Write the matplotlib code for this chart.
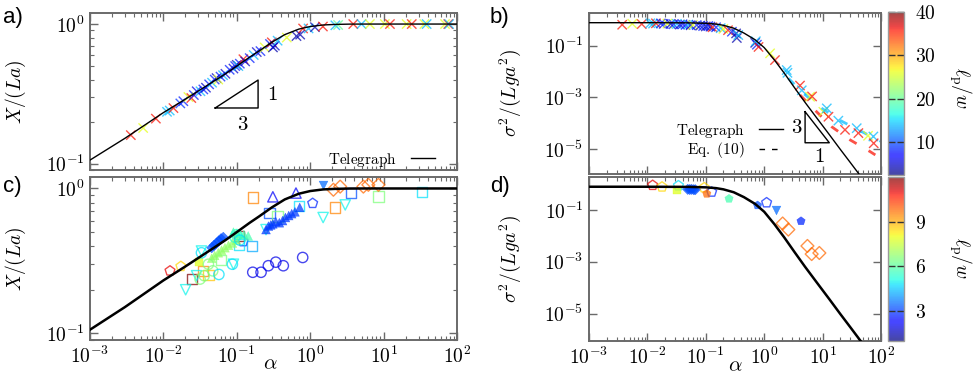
import numpy as np
import matplotlib
matplotlib.use("Agg")
import matplotlib.pyplot as plt
from matplotlib.colors import ListedColormap, Normalize
from matplotlib.ticker import FuncFormatter, LogLocator, NullFormatter, FixedLocator
from matplotlib.lines import Line2D
import matplotlib.cm as cm

plt.rcParams['mathtext.fontset'] = 'cm'
plt.rcParams['font.family'] = ['DejaVu Serif']

# ---------------- data ----------------
# theory curves
tele_alpha_X = [1e-3, 3e-3, 1e-2, 2e-2, 4e-2, 0.07, 0.1, 0.15, 0.2, 0.3, 0.45, 0.7, 1.0, 1.5, 2.2, 3.5, 6, 100]
tele_X = [0.106, 0.152, 0.232, 0.29, 0.365, 0.44, 0.50, 0.58, 0.64, 0.74, 0.84, 0.92, 0.96, 0.985, 0.994, 0.999, 1.0, 1.0]

tele_alpha_s = [1e-3, 1e-2, 0.05, 0.1, 0.15, 0.2, 0.3, 0.45, 0.7, 1.0, 1.5, 2.2, 3.3, 5, 8, 13, 20, 30, 45, 100]
tele_s = [0.78, 0.78, 0.77, 0.74, 0.69, 0.62, 0.48, 0.31, 0.17, 0.085, 0.028, 0.0088, 0.0024,
          6.5e-4, 1.58e-4, 3.7e-5, 1.0e-5, 3.0e-6, 8.9e-7, 8.1e-8]

# panel a: simulations, alpha, X/(La), lp/w
a_alpha = [0.0036, 0.0053, 0.0079, 0.0112, 0.0122, 0.0137, 0.017, 0.0187, 0.0219, 0.024, 0.026, 0.0284,
           0.032, 0.035, 0.038, 0.042, 0.046, 0.050, 0.053, 0.056, 0.060, 0.065, 0.070, 0.080, 0.090,
           0.095, 0.100, 0.105, 0.110, 0.123, 0.130, 0.150, 0.170, 0.187, 0.210, 0.240, 0.283, 0.300,
           0.311, 0.330, 0.360, 0.480, 0.650, 0.730, 0.800, 0.950, 1.16, 1.49, 2.2, 2.4, 3.86, 5.0,
           6.5, 10.4, 12.2, 20.6, 24.2, 36, 38.6, 68.7, 76, 78]
a_X = [0.16, 0.18, 0.21, 0.235, 0.24, 0.25, 0.27, 0.28, 0.30, 0.295, 0.31, 0.33,
       0.33, 0.34, 0.35, 0.37, 0.38, 0.40, 0.41, 0.40, 0.42, 0.43, 0.44, 0.47, 0.48,
       0.50, 0.51, 0.50, 0.52, 0.56, 0.54, 0.57, 0.60, 0.63, 0.64, 0.68, 0.72, 0.74,
       0.68, 0.70, 0.76, 0.80, 0.82, 0.84, 0.93, 0.93, 0.95, 0.96, 0.98, 0.985, 1.0, 1.0,
       1.0, 1.0, 1.0, 1.0, 1.0, 1.0, 1.0, 1.0, 1.0, 1.0]
a_lp = [36, 26, 36, 14, 14, 36, 9, 8, 26, 36, 8, 6,
        14, 8, 5, 8, 14, 8, 5, 26, 8, 14, 5, 8, 5,
        8, 4, 14, 8, 36, 5, 8, 14, 5, 8, 26, 8, 36,
        4, 5, 14, 26, 4, 4, 36, 14, 4, 36, 14, 20, 36, 14,
        26, 26, 36, 26, 36, 26, 14, 26, 36, 14]

# panel b: simulations, alpha, sigma^2/(Lga^2), lp/w
b_alpha = [0.0037, 0.0055, 0.008, 0.0112, 0.0125, 0.014, 0.017, 0.019, 0.022, 0.025, 0.028, 0.032,
           0.036, 0.04, 0.045, 0.05, 0.055, 0.06, 0.07, 0.08, 0.09, 0.1, 0.11, 0.12, 0.13, 0.15,
           0.18, 0.2, 0.24, 0.28, 0.33, 0.34, 0.36, 0.7, 0.75, 0.8, 0.72, 1.26, 1.53, 2.43, 2.5,
           4.1, 4.4, 6.1, 6.6, 10.3, 11.8, 12.6, 18.6, 24.2, 38.4, 41, 60, 74, 75]
b_s = [0.65, 0.71, 0.69, 0.74, 0.72, 0.74, 0.73, 0.70, 0.72, 0.70, 0.68, 0.70,
       0.66, 0.68, 0.64, 0.66, 0.62, 0.64, 0.63, 0.60, 0.58, 0.56, 0.58, 0.55, 0.52, 0.52,
       0.48, 0.45, 0.40, 0.35, 0.30, 0.20, 0.26, 0.13, 0.11, 0.09, 0.15, 0.051, 0.028, 0.0115, 0.009,
       0.0029, 0.0019, 0.00107, 0.0011, 2.8e-4, 3.8e-4, 1.8e-4, 1.27e-4, 5.6e-5, 6.5e-5, 4.2e-5, 3.3e-5, 3.1e-5, 1.7e-5]
b_lp = [36, 26, 36, 14, 14, 36, 8, 8, 26, 5, 8, 14,
        5, 8, 8, 14, 5, 26, 8, 5, 8, 4, 8, 5, 36, 8,
        14, 26, 36, 8, 4, 4, 14, 4, 8, 36, 14, 26, 36, 14, 14,
        36, 14, 26, 36, 26, 14, 36, 14, 36, 14, 36, 26, 14, 36]

# Eq. (10) curves in panel b
eq10_red_alpha = [4.1, 7.9, 14.3, 29.5, 65, 80]
eq10_red_s = [1.25e-3, 2.8e-4, 7.4e-5, 2.3e-5, 8.1e-6, 6.0e-6]
eq10_red_lp = 36
eq10_blue_alpha = [2.6, 4.6, 9.7, 20, 45, 100]
eq10_blue_s = [5.5e-3, 1.5e-3, 3.8e-4, 1.3e-4, 5.0e-5, 2.0e-5]
eq10_blue_lp = 14

# panel c: experiments (dataset id, alpha, X/(La), lp/w)
c_set = (['pent_o'] * 4 + ['sq_o'] * 15 + ['tv_o'] * 7 + ['tu_o'] * 2 + ['circ_o'] * 16 +
         ['dia_f'] * 6 + ['tu_f'] * 8 + ['tu_f'] * 5 + ['tu_f'] * 12 + ['sq_f'] + ['tv_f'] + ['dia_o'] * 5)
c_alpha = [0.0123, 0.0173, 0.122, 1.08,
           0.0243, 0.0344, 0.041, 0.061, 0.108, 0.107, 0.16, 0.165, 0.28, 0.36, 0.71, 2.2, 3.6, 8.5, 33,
           0.0201, 0.0283, 0.25, 1.5, 3.0, 0.033, 0.09,
           0.31, 0.64,
           0.0316, 0.041, 0.047, 0.033, 0.057, 0.087, 0.099, 0.165, 0.214, 0.269, 0.34, 0.43, 0.79, 0.036, 0.095, 0.11,
           0.0455, 0.049, 0.053, 0.057, 0.061, 0.0655,
           0.0455, 0.05, 0.056, 0.062, 0.069, 0.077, 0.087, 0.099,
           0.09, 0.1, 0.11, 0.125, 0.143,
           0.25, 0.27, 0.29, 0.31, 0.34, 0.38, 0.42, 0.46, 0.51, 0.56, 0.62, 0.72,
           0.031,
           1.5,
           2.07, 2.56, 5.3, 6.2, 8.5]
c_X = [0.27, 0.29, 0.43, 0.79,
       0.237, 0.268, 0.254, 0.32, 0.47, 0.41, 0.40, 0.867, 0.68, 0.64, 0.76, 0.74, 0.93, 0.88, 0.95,
       0.20, 0.25, 0.52, 0.63, 0.77, 0.37, 0.30,
       0.876, 0.93,
       0.237, 0.30, 0.27, 0.36, 0.255, 0.30, 0.48, 0.264, 0.264, 0.293, 0.31, 0.293, 0.334, 0.25, 0.46, 0.44,
       0.39, 0.405, 0.42, 0.435, 0.45, 0.46,
       0.33, 0.345, 0.36, 0.375, 0.39, 0.405, 0.42, 0.44,
       0.50, 0.49, 0.485, 0.48, 0.47,
       0.52, 0.55, 0.56, 0.57, 0.59, 0.58, 0.60, 0.63, 0.65, 0.67, 0.69, 0.74,
       0.31,
       1.06,
       0.98, 1.03, 1.03, 1.06, 1.06]
c_lp = [11, 8.5, 2.8, 2.8,
        12, 9.5, 8.7, 6.5, 12, 4.8, 4.2, 9.5, 3.2, 6.5, 4.8, 9.5, 3.2, 6.5, 4.8,
        5, 5, 5, 5, 5, 5, 5,
        2.2, 2.2,
        6.5, 6.5, 6.5, 4.8, 4.8, 4.8, 5.5, 2, 2, 2, 2, 2, 2, 6.5, 5.5, 4.8,
        3.2, 3.2, 3.2, 3.2, 3.2, 3.2,
        6.8, 6.8, 6.8, 6.8, 6.8, 6.8, 6.8, 6.8,
        5.8, 5.8, 5.8, 5.8, 5.8,
        3, 3, 3, 3, 3, 3, 3, 3, 3, 3, 3, 3,
        7.8,
        3.5,
        9.8, 9.8, 9.8, 9.8, 9.8]

# panel d: experiments
d_set = ['pent_o', 'pent_o', 'sq_f', 'pent_o', 'dia_f', 'dia_f', 'dia_f', 'dia_f', 'dia_f',
         'pent_o', 'pent_f', 'pent_o', 'pent_f', 'pent_f', 'pent_o', 'tv_f', 'pent_f',
         'dia_o', 'dia_o', 'dia_o', 'dia_o', 'dia_o']
d_alpha = [0.0123, 0.0178, 0.032, 0.034, 0.049, 0.053, 0.057, 0.062, 0.066,
           0.094, 0.104, 0.126, 0.25, 0.77, 1.10, 1.59, 4.27,
           2.07, 2.59, 5.5, 6.5, 8.8]
d_s = [0.89, 0.77, 0.57, 0.86, 0.62, 0.61, 0.62, 0.60, 0.60,
       0.72, 0.42, 0.49, 0.27, 0.15, 0.19, 0.10, 0.037,
       0.030, 0.0175, 0.0041, 0.0020, 0.0022]
d_lp = [11, 8.5, 7.8, 4.8, 3.2, 3.2, 3.2, 3.2, 3.2,
        8.5, 9.8, 2.8, 5.8, 3.2, 2.8, 3.5, 2.8,
        9.8, 9.8, 9.8, 9.8, 9.8]

# ---------------- style ----------------
marker_style = {
    'pent_o': ('p', False), 'pent_f': ('p', True), 'sq_o': ('s', False), 'sq_f': ('s', True),
    'tv_o': ('v', False), 'tv_f': ('v', True), 'tu_o': ('^', False), 'tu_f': ('^', True),
    'circ_o': ('o', False), 'dia_f': ('D', True), 'dia_o': ('D', False),
}

jet = plt.get_cmap('jet')
cols = jet(np.linspace(0, 1, 256))
cols[:, 3] = 0.72
cmap_a = ListedColormap(cols)
norm_top = Normalize(2.4, 40)
norm_bot = Normalize(1, 12)

W, H = 978, 375
fig = plt.figure(figsize=(W / 100, H / 100), dpi=100)

def box(l, t, r, b):
    return [l / W, 1 - b / H, (r - l) / W, (b - t) / H]

ax_a = fig.add_axes(box(90, 13, 457, 170))
ax_c = fig.add_axes(box(90, 177, 457, 340))
ax_b = fig.add_axes(box(589, 13, 881, 174))
ax_d = fig.add_axes(box(589, 177, 881, 341))
cax_t = fig.add_axes(box(888, 12, 904, 175))
cax_b = fig.add_axes(box(888, 177, 904, 341))

spine_col = '#6a6a6a'
TFS = 14

def pow_fmt(v, pos):
    e = int(round(np.log10(v)))
    return r'$10^{%d}$' % e

def style_axes(ax, ymajor, yminor, xlabels):
    ax.set_xscale('log')
    ax.set_yscale('log')
    ax.set_xlim(1e-3, 1e2)
    ax.xaxis.set_major_locator(FixedLocator([1e-3, 1e-2, 1e-1, 1e0, 1e1, 1e2]))
    ax.xaxis.set_minor_locator(LogLocator(base=10, subs=np.arange(2, 10) * 1.0, numticks=20))
    ax.yaxis.set_major_locator(FixedLocator(ymajor))
    if yminor:
        ax.yaxis.set_minor_locator(LogLocator(base=10, subs=np.arange(2, 10) * 1.0, numticks=20))
    else:
        ax.yaxis.set_minor_locator(FixedLocator([]))
    ax.yaxis.set_major_formatter(FuncFormatter(pow_fmt))
    ax.yaxis.set_minor_formatter(NullFormatter())
    ax.xaxis.set_minor_formatter(NullFormatter())
    if xlabels:
        ax.xaxis.set_major_formatter(FuncFormatter(pow_fmt))
    else:
        ax.xaxis.set_major_formatter(NullFormatter())
    ax.tick_params(which='both', direction='in', top=True, right=True, color=spine_col,
                   labelsize=TFS, pad=4)
    ax.tick_params(which='major', length=6, width=1.0)
    ax.tick_params(which='minor', length=3, width=0.8)
    for s in ax.spines.values():
        s.set_color(spine_col)
        s.set_linewidth(1.4)

style_axes(ax_a, [1e-1, 1e0], True, False)
style_axes(ax_c, [1e-1, 1e0], True, True)
style_axes(ax_b, [1e-5, 1e-3, 1e-1], False, False)
style_axes(ax_d, [1e-5, 1e-3, 1e-1], False, True)
ax_a.set_ylim(0.09, 1.2)
ax_c.set_ylim(0.09, 1.2)
ax_b.set_ylim(1.1e-6, 1.85)
ax_d.set_ylim(9e-7, 1.85)

# panel a
ax_a.scatter(a_alpha, a_X, c=a_lp, cmap=cmap_a, norm=norm_top, marker='x', s=45, linewidths=1.0, zorder=2)
ax_a.plot(tele_alpha_X, tele_X, color='k', lw=1.0, zorder=3)
ax_a.legend([Line2D([], [], color='k', lw=1.0)], [r'$\mathrm{Telegraph}$'], loc='center right',
            bbox_to_anchor=(0.94, 0.065), frameon=False, markerfirst=False, fontsize=11,
            handlelength=1.6, handletextpad=0.9, borderpad=0, borderaxespad=0)
tri_a = [(0.341, 0.395), (0.458, 0.395), (0.458, 0.573), (0.341, 0.395)]
ax_a.plot([p[0] for p in tri_a], [p[1] for p in tri_a], color='k', lw=1.0, transform=ax_a.transAxes)
ax_a.text(0.498, 0.48, '$1$', transform=ax_a.transAxes, fontsize=15, ha='center', va='center')
ax_a.text(0.415, 0.29, '$3$', transform=ax_a.transAxes, fontsize=15, ha='center', va='center')
ax_a.set_ylabel('$X/(La)$', fontsize=14)
ax_a.yaxis.set_label_coords(-0.17, 0.5)

# panel b
ax_b.plot(eq10_red_alpha, eq10_red_s, color=cmap_a(norm_top(eq10_red_lp)), lw=2.0, dashes=(3, 5), zorder=2)
ax_b.plot(eq10_blue_alpha, eq10_blue_s, color=cmap_a(norm_top(eq10_blue_lp)), lw=2.0, dashes=(3, 5), zorder=2)
ax_b.scatter(b_alpha, b_s, c=b_lp, cmap=cmap_a, norm=norm_top, marker='x', s=45, linewidths=1.0, zorder=2)
ax_b.plot(tele_alpha_s, tele_s, color='k', lw=1.0, zorder=3)
ax_b.legend([Line2D([], [], color='k', lw=1.0), Line2D([], [], color='k', lw=1.0, dashes=(4, 5))],
            [r'$\mathrm{Telegraph}$', r'$\mathrm{Eq.\ (10)}$'], loc='center right',
            bbox_to_anchor=(0.665, 0.205), frameon=False, markerfirst=False, fontsize=11,
            handlelength=1.6, handletextpad=0.9, borderpad=0, borderaxespad=0, labelspacing=0.05)
tri_b = [(0.740, 0.387), (0.740, 0.194), (0.823, 0.194), (0.740, 0.387)]
ax_b.plot([p[0] for p in tri_b], [p[1] for p in tri_b], color='k', lw=1.0, transform=ax_b.transAxes)
ax_b.text(0.71, 0.29, '$3$', transform=ax_b.transAxes, fontsize=15, ha='center', va='center')
ax_b.text(0.79, 0.11, '$1$', transform=ax_b.transAxes, fontsize=15, ha='center', va='center')
ax_b.set_ylabel(r'$\sigma^2/(Lga^2)$', fontsize=14)
ax_b.yaxis.set_label_coords(-0.225, 0.5)

# panels c, d
def draw_exp(ax, sets, xs, ys, lps):
    for key, (mk, filled) in marker_style.items():
        idx = [i for i, s in enumerate(sets) if s == key]
        if not idx:
            continue
        xx = [xs[i] for i in idx]
        yy = [ys[i] for i in idx]
        cc = [cmap_a(norm_bot(lps[i])) for i in idx]
        ms = 40 if mk != 'D' else 28
        if filled:
            ax.scatter(xx, yy, c=cc, marker=mk, s=ms, linewidths=0.3, edgecolors=cc, zorder=2)
        else:
            ax.scatter(xx, yy, facecolors='none', edgecolors=cc, marker=mk, s=ms + 15, linewidths=1.0, zorder=2)

draw_exp(ax_c, c_set, c_alpha, c_X, c_lp)
ax_c.plot(tele_alpha_X, tele_X, color='k', lw=1.8, zorder=3)
ax_c.set_ylabel('$X/(La)$', fontsize=14)
ax_c.yaxis.set_label_coords(-0.17, 0.5)
ax_c.set_xlabel(r'$\alpha$', fontsize=15)
ax_c.xaxis.set_label_coords(0.49, -0.09)

draw_exp(ax_d, d_set, d_alpha, d_s, d_lp)
ax_d.plot(tele_alpha_s, tele_s, color='k', lw=1.8, zorder=3)
ax_d.set_ylabel(r'$\sigma^2/(Lga^2)$', fontsize=14)
ax_d.yaxis.set_label_coords(-0.225, 0.5)
ax_d.set_xlabel(r'$\alpha$', fontsize=15)
ax_d.xaxis.set_label_coords(0.5, -0.09)

# colorbars
for cax, norm, ticks in [(cax_t, norm_top, [10, 20, 30, 40]), (cax_b, norm_bot, [3, 6, 9])]:
    sm = cm.ScalarMappable(norm=norm, cmap=cmap_a)
    cb = fig.colorbar(sm, cax=cax, ticks=ticks)
    cb.outline.set_edgecolor('#9a9a9a')
    cb.outline.set_linewidth(1.0)
    cax.tick_params(direction='in', length=5, width=1.0, color='#333333', left=True, right=True,
                    labelsize=TFS, pad=8)
    cax.yaxis.set_major_formatter(FuncFormatter(lambda v, p: '$%d$' % int(round(v))))

fig.text(960 / W, 1 - 88 / H, r'$\ell_{\rm p}/w$', rotation=270, fontsize=14, ha='center', va='center')
fig.text(960 / W, 1 - 258 / H, r'$\ell_{\rm p}/w$', rotation=270, fontsize=14, ha='center', va='center')

# panel labels
for lab, x, y in [('a)', 3, 17), ('b)', 490, 17), ('c)', 3, 187), ('d)', 490, 187)]:
    fig.text(x / W, 1 - y / H, lab, fontsize=16, family='Liberation Sans', ha='left', va='center')

fig.savefig('out.png', dpi=100)
